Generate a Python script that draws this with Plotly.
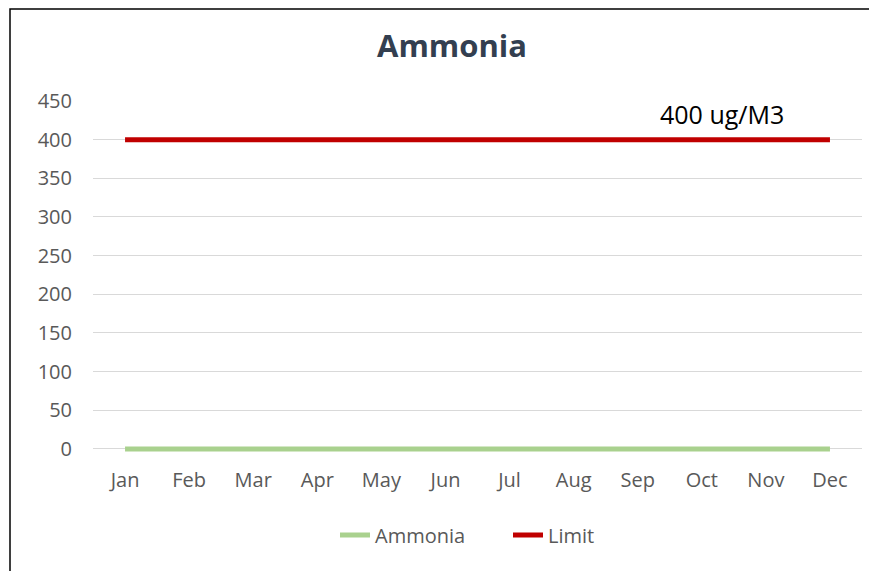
import plotly.graph_objects as go

months = ["Jan", "Feb", "Mar", "Apr", "May", "Jun", "Jul", "Aug", "Sep", "Oct", "Nov", "Dec"]
ammonia = [0, 0, 0, 0, 0, 0, 0, 0, 0, 0, 0, 0]
limit = [400, 400, 400, 400, 400, 400, 400, 400, 400, 400, 400, 400]
y_ticks = [0, 50, 100, 150, 200, 250, 300, 350, 400, 450]

# page body has an 8px default margin; figure is sized/positioned to compensate
OFF = 8
W, H = 877 - OFF, 571 - OFF
L, R, T, B = 85, 15, 93, 119
pw, ph = W - L - R, H - T - B
Y_MIN = -4  # small pad so the zero line is not clipped


def px(rx):
    return (rx - OFF - L) / pw


def py(ry):
    bottom = H - B
    return (bottom - (ry - OFF)) / ph


FONT = "Open Sans, Liberation Sans, sans-serif"

fig = go.Figure()
fig.add_trace(go.Scatter(x=months, y=ammonia, name="Ammonia", mode="lines",
                         line=dict(color="#A9D18E", width=5)))
fig.add_trace(go.Scatter(x=months, y=limit, name="Limit", mode="lines",
                         line=dict(color="#C00000", width=5)))

fig.add_annotation(x=px(722), xref="paper", y=py(114), yref="paper",
                   xanchor="center", yanchor="middle",
                   text="400 ug/M3", showarrow=False,
                   font=dict(family=FONT, size=25, color="#000000"))

fig.add_annotation(x=px(452), xref="paper", y=py(45), yref="paper",
                   xanchor="center", yanchor="middle",
                   text="<b>Ammonia</b>", showarrow=False,
                   font=dict(family=FONT, size=31, color="#333F50"))

# chart border (left and top visible)
fig.add_shape(type="rect", xref="paper", yref="paper",
              x0=px(10), x1=1.2, y0=-0.6, y1=(H - B - 1) / ph,
              line=dict(color="#000000", width=1.5))

fig.update_layout(
    width=W, height=H,
    margin=dict(l=L, r=R, t=T, b=B),
    paper_bgcolor="white", plot_bgcolor="white",
    font=dict(family=FONT, size=20, color="#595959"),
    xaxis=dict(showgrid=False, showline=False, ticks="", ticklabelstandoff=14,
               range=[-0.5, 11.5]),
    yaxis=dict(range=[Y_MIN, 450], tickvals=y_ticks, showgrid=True, gridcolor="#D9D9D9",
               gridwidth=1, zeroline=False, showline=False, ticks="",
               ticklabelstandoff=20),
    legend=dict(orientation="h", x=px(508), xanchor="center",
                y=py(535), yanchor="middle", entrywidth=128, entrywidthmode="pixels",
                font=dict(family=FONT, size=20, color="#595959")),
    showlegend=True,
)

fig.write_html("out.html")
